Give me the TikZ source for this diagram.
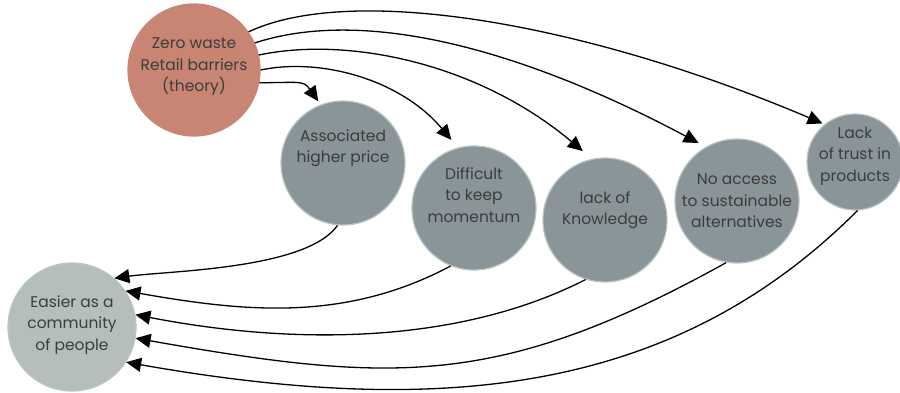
\documentclass[tikz,border=0pt]{standalone}
\usepackage{fontspec}
\setmainfont{Poppins}
\usetikzlibrary{arrows.meta}
\definecolor{clay}{HTML}{C98573}
\definecolor{slate}{HTML}{8A9599}
\definecolor{sage}{HTML}{B4BFBA}
\definecolor{rim}{HTML}{BAC4C3}
\definecolor{ink}{HTML}{3C3C3C}
\begin{document}
\begin{tikzpicture}[x=1pt,y=1pt,
  bubble/.style={circle,inner sep=0pt,draw=rim,line width=1.2pt},
  caption/.style={align=center,text=ink,inner sep=0pt,font=\fontsize{15.5}{21.5}\selectfont},
  link/.style={line width=1.3pt,-{Triangle[length=15pt,width=14pt]}}]
\useasboundingbox (0,0) rectangle (900,392);

% circles
\node[bubble,fill=clay,draw=clay,minimum size=132pt] (zw) at (194,322) {};
\node[bubble,fill=slate,minimum size=124pt] (ahp) at (343,229) {};
\node[bubble,fill=slate,minimum size=124pt] (dkm) at (474,184) {};
\node[bubble,fill=slate,minimum size=124pt] (lok) at (605,172) {};
\node[bubble,fill=slate,minimum size=124pt] (nas) at (737,191) {};
\node[bubble,fill=slate,minimum size=96pt] (ltp) at (855,230) {};
\node[bubble,fill=sage,minimum size=128pt] (eac) at (72,65) {};

% captions
\node[caption] (zwt) at ([yshift=3pt]zw.center) {Zero waste\\Retail barriers\\(theory)};
\node[caption] (ahpt) at ([yshift=15pt]ahp.center) {Associated\\higher price};
\node[caption] (dkmt) at ([yshift=13pt]dkm.center) {Difficult\\to keep\\momentum};
\node[caption] (lokt) at ([yshift=10pt]lok.center) {lack of\\Knowledge};
\node[caption] (nast) at (nas.center) {No access\\to sustainable\\alternatives};
\node[caption] (ltpt) at ([yshift=6pt]ltp.center) {Lack\\of trust in\\products};
\node[caption] (eact) at ([yshift=2pt]eac.center) {Easier as a\\community\\of people};

% barriers branching out of the theory circle
\draw[link,shorten >=4pt] (zw.-11) .. controls +(0:40) and +(125:30) .. (ahp.111);
\draw[link,shorten >=10pt] (zw.0) .. controls +(12:60) and +(130:90) .. (dkm.105);
\draw[link,shorten >=12pt] (zw.13) .. controls +(12:90) and +(140:150) .. (lok.102);
\draw[link,shorten >=8pt] (zw.24) .. controls +(18:120) and +(152:200) .. (nas.120);
\draw[link,shorten >=2pt] (zw.35) .. controls +(25:115) and +(157:260) .. (ltp.129);

% every barrier leads to the community circle
\draw[link] (ahp.-95) .. controls +(235:54) and +(8:54) .. (eac.49);
\draw[link] (dkm.-112) .. controls +(208:120) and +(-10:120) .. (eac.34);
\draw[link] (lok.-108) .. controls +(207:150) and +(-11:150) .. (eac.11);
\draw[link] (nas.-100) .. controls +(209:260) and +(-10:260) .. (eac.-10);
\draw[link] (ltp.-87) .. controls +(225:260) and +(-10:320) .. (eac.-33);
\end{tikzpicture}
\end{document}
